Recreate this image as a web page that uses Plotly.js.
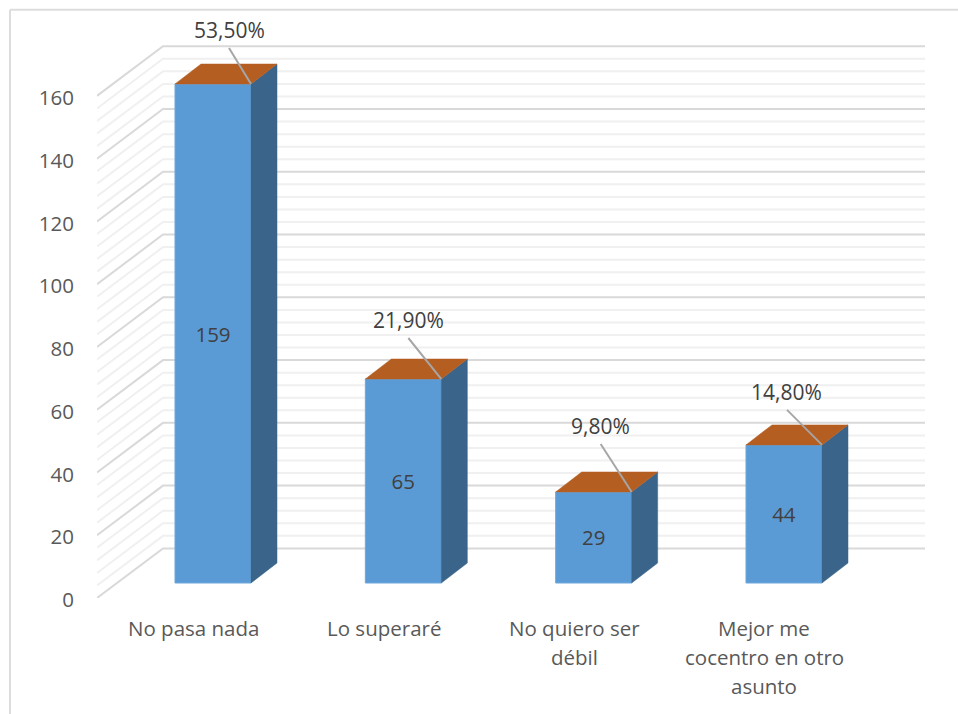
<!DOCTYPE html>
<html>
<head>
<meta charset="utf-8">
<script src="https://cdn.plot.ly/plotly-3.0.1.min.js"></script>
<style>html,body{margin:0;padding:0;background:#fff}#chart{width:958px;height:714px}</style>
</head>
<body>
<div id="chart"></div>
<script>
// ---- data ----
const categoryLines = [["No pasa nada"], ["Lo superaré"], ["No quiero ser", "débil"], ["Mejor me", "cocentro en otro", "asunto"]];
const values = [159, 65, 29, 44];
const percentLabels = ["53,50%", "21,90%", "9,80%", "14,80%"];
const majorTicks = [0, 20, 40, 60, 80, 100, 120, 140, 160];
const minorTicks = [4, 8, 12, 16, 24, 28, 32, 36, 44, 48, 52, 56, 64, 68, 72, 76, 84, 88, 92, 96, 104, 108, 112, 116, 124, 128, 132, 136, 144, 148, 152, 156];

// ---- geometry of the 3-D look, expressed in axis units ----
const W = 958, H = 714;
const plotL = 97, plotR = 925, plotB = 598, pxPerUnit = 3.1375, yMax = 188;
const plotT = plotB - yMax * pxPerUnit;
const slot = 190.33, firstCentre = 213;
const xOf = px => (px - firstCentre) / slot;
const dxU = px => px / slot, dyU = px => px / pxPerUnit;
const xs = values.map((_, i) => i);
const barWidth = dxU(76), barBase = dyU(15), depthX = dxU(26), depthY = dyU(20);
const wallX = dxU(66), wallY = dyU(49.6);
const leaderOffset = [[-22, 36], [-33, 41], [-31, 48], [-35, 35]];
const labelGap = 18;
const FONT = '"Open Sans", sans-serif';
const FS = 20.5;
const TEXT = '#595959', DARK = '#404040';

const poly = f => {
  const X = [], Y = [];
  xs.forEach((x, i) => { f(x, values[i]).forEach(p => { X.push(p[0]); Y.push(p[1]); }); X.push(null); Y.push(null); });
  return { x: X, y: Y };
};
const h = barWidth / 2;
const sides = poly((x, v) => [[x + h, barBase], [x + h + depthX, barBase + depthY], [x + h + depthX, barBase + v + depthY], [x + h, barBase + v], [x + h, barBase]]);
const tops = poly((x, v) => { const t = barBase + v; return [[x - h, t], [x + h, t], [x + h + depthX, t + depthY], [x - h + depthX, t + depthY], [x - h, t]]; });

const leadX = [], leadY = [];
xs.forEach((x, i) => {
  const t = barBase + values[i];
  leadX.push(x + h, x + h + dxU(leaderOffset[i][0]), null);
  leadY.push(t, t + dyU(leaderOffset[i][1]), null);
});

const traces = [
  { type: 'bar', x: xs, y: values, base: xs.map(() => barBase), width: barWidth,
    marker: { color: '#5B9BD5', line: { color: '#6FA8DC', width: 1 } },
    text: values.map(String), textposition: 'inside', insidetextanchor: 'middle', textangle: 0,
    textfont: { family: FONT, size: FS, color: DARK }, hoverinfo: 'skip' },
  { type: 'scatter', mode: 'lines', x: sides.x, y: sides.y, fill: 'toself', fillcolor: '#3A6489', line: { color: '#3A6489', width: 0.5 }, hoverinfo: 'skip' },
  { type: 'scatter', mode: 'lines', x: tops.x, y: tops.y, fill: 'toself', fillcolor: '#B55E22', line: { color: '#B55E22', width: 0.5 }, hoverinfo: 'skip' },
  { type: 'scatter', mode: 'lines', x: leadX, y: leadY, line: { color: '#A6A6A6', width: 2 }, hoverinfo: 'skip' }
];

const xLeft = xOf(plotL), xRight = xOf(plotR);
const gridShape = (v, color, width) => ({
  type: 'path', xref: 'x', yref: 'y', layer: 'below',
  path: `M${xLeft},${v} L${xLeft + wallX},${v + wallY} L${xRight},${v + wallY}`,
  line: { color, width }, fillcolor: 'rgba(0,0,0,0)'
});
const paperX = px => (px - plotL) / (plotR - plotL);
const paperY = py => (plotB - py) / (plotB - plotT);
const shapes = [
  ...minorTicks.map(v => gridShape(v, '#F0F0F0', 2)),
  ...majorTicks.map(v => gridShape(v, '#D9D9D9', 2)),
  { type: 'line', xref: 'paper', yref: 'paper', x0: paperX(10), x1: paperX(958), y0: paperY(10), y1: paperY(10), line: { color: '#DDDDDD', width: 2 }, layer: 'below' },
  { type: 'line', xref: 'paper', yref: 'paper', x0: paperX(10), x1: paperX(10), y0: paperY(10), y1: paperY(714), line: { color: '#DDDDDD', width: 2 }, layer: 'below' }
];

const annotations = [];
categoryLines.forEach((lines, i) => {
  lines.forEach((line, k) => annotations.push({
    xref: 'x', yref: 'paper', x: i - dxU(19.5), y: paperY(628 + k * 29), yanchor: 'middle', xanchor: 'center',
    text: line, showarrow: false, font: { family: FONT, size: FS, color: TEXT }
  }));
});
percentLabels.forEach((label, i) => {
  annotations.push({
    xref: 'x', yref: 'y', x: i + h + dxU(leaderOffset[i][0]),
    y: barBase + values[i] + dyU(leaderOffset[i][1] + labelGap),
    yanchor: 'middle', xanchor: 'center', text: label, showarrow: false,
    font: { family: FONT, size: 21, color: DARK }
  });
});

const layout = {
  width: W, height: H, showlegend: false, paper_bgcolor: '#fff', plot_bgcolor: 'rgba(0,0,0,0)',
  margin: { l: plotL, r: W - plotR, t: plotT, b: H - plotB, pad: 0 },
  bargap: 0,
  xaxis: { range: [xLeft, xRight], showgrid: false, zeroline: false, showline: false, showticklabels: false, ticks: '', fixedrange: true },
  yaxis: { range: [0, yMax], tickvals: majorTicks, ticktext: majorTicks.map(String), showgrid: false, zeroline: false, showline: false,
    ticks: 'outside', ticklen: 18, tickcolor: 'rgba(0,0,0,0)', ticklabelshift: 2, tickfont: { family: FONT, size: FS, color: TEXT }, fixedrange: true },
  shapes, annotations
};
Plotly.newPlot('chart', traces, layout, { displayModeBar: false, staticPlot: true });
</script>
</body>
</html>
